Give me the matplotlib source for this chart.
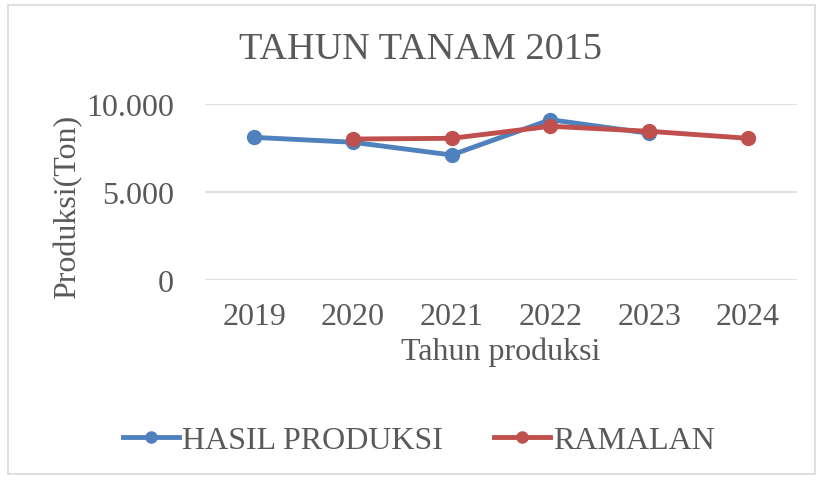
import numpy as np
import matplotlib.pyplot as plt
from matplotlib.patches import Rectangle

# data
tahun = ['2019', '2020', '2021', '2022', '2023', '2024']
hasil_produksi = [8120, 7840, 7115, 9125, 8350, np.nan]
ramalan = [np.nan, 8025, 8065, 8750, 8465, 8065]

plt.rcParams['font.family'] = ['Liberation Serif', 'DejaVu Serif']
text_col = '#595959'

fig = plt.figure(figsize=(8.22, 4.81), dpi=100)
ax = fig.add_axes([0.249, 0.416, 0.721, 0.365])

x = np.arange(len(tahun))
ax.plot(x, hasil_produksi, color='#4F81BD', lw=3.5, marker='o', ms=10,
        label='HASIL PRODUKSI', zorder=3)
ax.plot(x, ramalan, color='#C0504D', lw=3.5, marker='o', ms=10,
        label='RAMALAN', zorder=4)

ax.set_xlim(-0.5, len(tahun) - 0.5)
ax.set_ylim(0, 10000)
ax.set_yticks([0, 5000, 10000])
ax.set_yticklabels(['0', '5.000', '10.000'])
ax.set_xticks(x)
ax.set_xticklabels(tahun)
ax.tick_params(length=0, labelsize=23, colors=text_col)
ax.tick_params(axis='x', pad=16)
ax.tick_params(axis='y', pad=22)
ax.grid(axis='y', color='#d9d9d9', lw=1.2)
ax.set_axisbelow(True)
for s in ax.spines.values():
    s.set_visible(False)

ax.set_xlabel('Tahun produksi', fontsize=23, color=text_col, labelpad=4)
ax.set_ylabel('Produksi(Ton)', fontsize=23, color=text_col)
ax.yaxis.set_label_coords(-0.207, 0.42)

fig.text(0.512, 0.896, 'TAHUN TANAM 2015', fontsize=27.5, color=text_col,
         ha='center', va='center')

leg = fig.legend(loc='center', bbox_to_anchor=(0.51, 0.082), ncol=2, frameon=False,
                 fontsize=23, handlelength=1.75, columnspacing=1.6, handletextpad=0.1,
                 markerscale=0.8)
for t in leg.get_texts():
    t.set_color(text_col)

fig.patches.append(Rectangle((0.01, 0.012), 0.982, 0.976, transform=fig.transFigure,
                             fill=False, ec='#d9d9d9', lw=1.2))

fig.savefig('out.png', dpi=100)
